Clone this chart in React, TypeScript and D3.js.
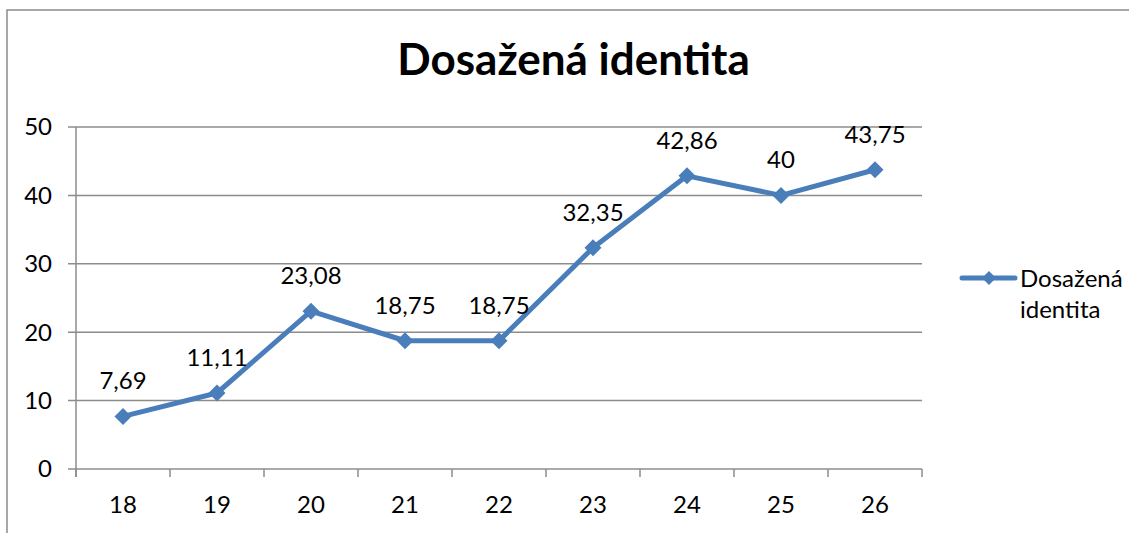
import React from "react";
import * as d3 from "d3";

const categories = ["18", "19", "20", "21", "22", "23", "24", "25", "26"];
const values = [7.69, 11.11, 23.08, 18.75, 18.75, 32.35, 42.86, 40, 43.75];
const valueLabels = ["7,69", "11,11", "23,08", "18,75", "18,75", "32,35", "42,86", "40", "43,75"];
const yTicks = [0, 10, 20, 30, 40, 50];
const title = "Dosažená identita";
const seriesName = ["Dosažená", "identita"];

const W = 1129;
const H = 533;
const FONT = "Lato, 'Open Sans', sans-serif";
const BLUE = "#4a7ebb";
const GRID = "#8c8c8c";

export default function App() {
  const x = d3.scaleBand<string>().domain(categories).range([76, 922]);
  const y = d3.scaleLinear().domain([0, 50]).range([469, 127]);
  const cx = (c: string) => (x(c) ?? 0) + x.bandwidth() / 2;
  const pts: [number, number][] = categories.map((c, i) => [cx(c), y(values[i])]);
  const line = d3.line<[number, number]>()(pts) ?? "";
  const diamond = (px: number, py: number, r: number) =>
    `M${px},${py - r}L${px + r},${py}L${px},${py + r}L${px - r},${py}Z`;
  const bounds = categories.map((c) => x(c) ?? 0).concat([x.range()[1]]);

  return (
    <svg
      width={W}
      height={H}
      style={{ position: "absolute", left: 0, top: 0, background: "#fff" }}
      fontFamily={FONT}
    >
      <rect x={7} y={10} width={W + 20} height={H + 20} fill="#fff" stroke={GRID} strokeWidth={1.5} />
      <text x={573.5} y={75} textAnchor="middle" fontSize={44} fontWeight="bold" fill="#000">
        {title}
      </text>
      {yTicks.map((t) => (
        <g key={t}>
          <line x1={68} x2={922} y1={y(t)} y2={y(t)} stroke={GRID} strokeWidth={1.5} />
          <text x={52} y={y(t)} dy="0.35em" textAnchor="end" fontSize={24} fill="#000">
            {t}
          </text>
        </g>
      ))}
      <line x1={76} x2={76} y1={y(50)} y2={477} stroke={GRID} strokeWidth={1.5} />
      {bounds.map((b, i) => (
        <line key={i} x1={b} x2={b} y1={y(0)} y2={477} stroke={GRID} strokeWidth={1.5} />
      ))}
      {categories.map((c) => (
        <text key={c} x={cx(c)} y={513} textAnchor="middle" fontSize={24} fill="#000">
          {c}
        </text>
      ))}
      <path d={line} fill="none" stroke={BLUE} strokeWidth={5} strokeLinejoin="round" strokeLinecap="round" />
      {pts.map(([px, py], i) => (
        <path key={i} d={diamond(px, py, 8.5)} fill={BLUE} />
      ))}
      {pts.map(([px, py], i) => (
        <text key={i} x={px} y={py - 27} textAnchor="middle" fontSize={24} fill="#000">
          {valueLabels[i]}
        </text>
      ))}
      <line x1={962} x2={1015} y1={278} y2={278} stroke={BLUE} strokeWidth={5} strokeLinecap="round" />
      <path d={diamond(989, 278, 7)} fill={BLUE} />
      {seriesName.map((s, i) => (
        <text key={s} x={1020} y={287 + i * 31} fontSize={24} fill="#000">
          {s}
        </text>
      ))}
    </svg>
  );
}
